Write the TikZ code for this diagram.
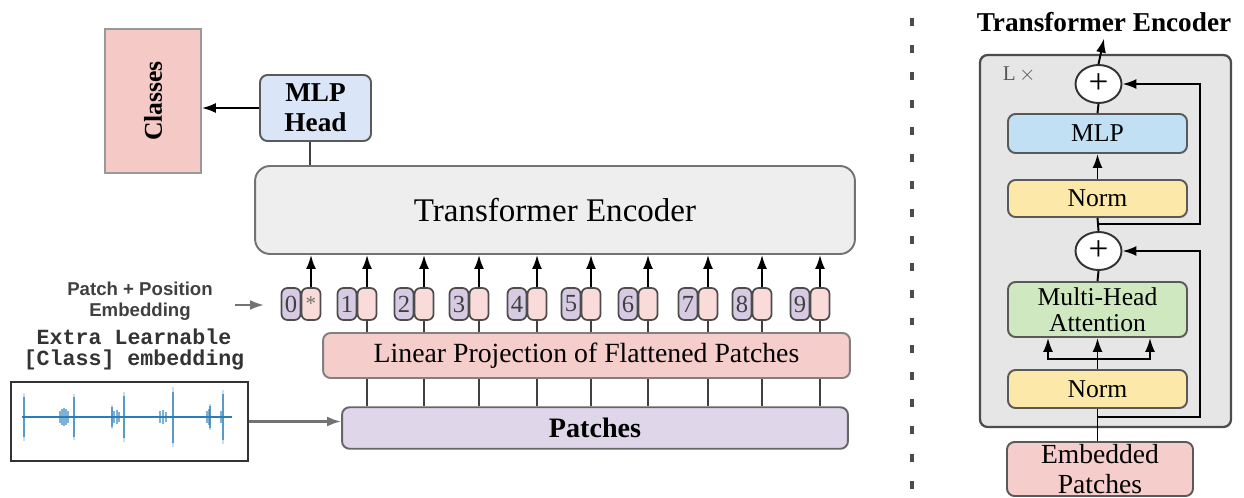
\documentclass[tikz,border=0pt]{standalone}
\usepackage{fontspec}
\setmainfont{Liberation Serif}
\setsansfont{Liberation Sans}
\setmonofont{Liberation Mono}
\usetikzlibrary{arrows.meta,shapes.geometric}

\definecolor{classfill}{HTML}{F5C9C6}
\definecolor{headfill}{HTML}{DAE6F7}
\definecolor{encfill}{HTML}{EEEEEE}
\definecolor{tokpurple}{HTML}{D6CBE3}
\definecolor{tokpink}{HTML}{F9DCD9}
\definecolor{projfill}{HTML}{F5CDCB}
\definecolor{patchfill}{HTML}{DFD6EA}
\definecolor{panelfill}{HTML}{E6E6E6}
\definecolor{mlpfill}{HTML}{C2E0F4}
\definecolor{normfill}{HTML}{FCE9A9}
\definecolor{mhafill}{HTML}{CFE8BF}
\definecolor{wave}{HTML}{2A7DB8}

\tikzset{
  box/.style={draw=black!65,line width=1.1pt,rounded corners=0.15cm,align=center,inner sep=0pt},
  blk/.style={box,minimum width=3.58cm,font=\fontsize{14.6}{15}\selectfont},
  tok/.style={draw=black!70,line width=1pt,rounded corners=0.12cm,minimum width=0.38cm,minimum height=0.64cm,inner sep=0pt,
    font=\fontsize{14}{14}\selectfont\color{black!75}},
  addnode/.style={ellipse,draw=black!80,fill=white,line width=1.1pt,minimum width=0.92cm,minimum height=0.76cm,inner sep=0pt,
    font=\fontsize{20}{20}\selectfont},
  grayarrow/.style={->,draw=black!55,line width=1.3pt},
}

\begin{document}
\begin{tikzpicture}[x=0.02cm,y=-0.02cm,>={Latex[length=0.28cm,width=0.2cm]},line width=1.1pt]
\useasboundingbox (0,0) rectangle (1244,497);

% left: classifier
\node[draw=black!40,fill=classfill,line width=1pt,minimum width=1.92cm,minimum height=2.88cm,inner sep=0pt,
  font=\fontsize{14.6}{15}\selectfont\bfseries] (classes) at (153,101) {\rotatebox{90}{Classes}};
\node[box,fill=headfill,minimum width=2.22cm,minimum height=1.32cm,font=\fontsize{15.5}{17}\selectfont\bfseries]
  (mlphead) at (315.5,108) {MLP\\Head};
\node[box,fill=encfill,draw=black!55,rounded corners=0.3cm,minimum width=12cm,minimum height=1.76cm,
  font=\fontsize{18.8}{20}\selectfont] (enc) at (555,210) {Transformer Encoder};
\draw[->] (mlphead.west) -- (mlphead.west -| classes.east);
\draw[black!75] (mlphead.south -| 310,0) -- (enc.north -| 310,0);

% tokens
\foreach \n/\x in {0/311,1/367,2/424,3/479,4/537,5/591,6/648,7/708,8/762,9/820} {
  \node[tok,fill=tokpink] (tokp\n) at (\x,304) {};
  \node[tok,fill=tokpurple] (tokn\n) at (\x-20,304) {\n};
  \draw[->] (tokp\n.north) -- (tokp\n.north |- enc.south);
}
\node[font=\fontsize{12}{12}\selectfont\color{black!55}] at (tokp0.center) {*};

\node[box,fill=projfill,draw=black!50,minimum width=10.54cm,minimum height=0.9cm,font=\fontsize{15.8}{17}\selectfont]
  (proj) at (586.5,355.5) {Linear Projection of Flattened Patches};
\node[box,fill=patchfill,draw=black!60,minimum width=10.12cm,minimum height=0.83cm,font=\fontsize{16}{17}\selectfont\bfseries]
  (patches) at (595,428) {Patches};
\foreach \n in {1,...,9} {
  \draw[black!75] (proj.north -| tokp\n.south) -- (tokp\n.south);
  \draw[black!75] (proj.south -| tokp\n.south) -- (patches.north -| tokp\n.south);
}

% labels and input signal
\node[align=center,font=\fontsize{10.6}{12}\selectfont\sffamily\bfseries\color{black!75}] (posemb) at (140,301)
  {Patch + Position\\Embedding};
\coordinate (posstart) at (235,305);
\coordinate (posend) at (264,305);
\draw[grayarrow] (posstart) -- (posend);
\node[align=center,font=\fontsize{12.3}{12.2}\selectfont\ttfamily\bfseries\color{black!80}] (clsemb) at (134,349.5)
  {Extra Learnable\\{[Class]} embedding};
\node[draw=black!80,line width=1.3pt,minimum width=4.74cm,minimum height=1.58cm,inner sep=0pt] (signal) at (129.5,421.5) {};
\begin{scope}[wave]
\draw[line width=1.1pt] (22,417) -- (232,417);
\foreach \x/\h in {24/24,74/23,112/12,124/25,173/30,210/13,223/27} {
  \draw[line width=1.6pt,opacity=0.25] (\x,417-\h) -- (\x,417+\h);
  \draw[line width=0.8pt,opacity=0.7] (\x,417-0.85*\h) -- (\x,417+0.85*\h);
}
\foreach \x/\h in {60/6,62/8,64/9,66/8,68/6,114/6,117/7,119/5,160/6,163/7,166/5,207/6,209/8,221/6}
  \draw[line width=1pt,opacity=0.6] (\x,417-\h) -- (\x,417+\h);
\end{scope}
\draw[grayarrow] (signal.east) -- (signal.east -| patches.west);

% divider
\draw[black!70,line width=1.8pt,dash pattern=on 4.5pt off 11pt] (912,18) -- (912,492);

% right: encoder block
\node[font=\fontsize{15.5}{16}\selectfont\bfseries] (title) at (1104,22) {Transformer Encoder};
\node[box,fill=panelfill,draw=black!70,line width=1.3pt,minimum width=5.02cm,minimum height=7.44cm] (panel) at (1105.5,241) {};
\node[font=\fontsize{12}{12}\selectfont\color{black!65},anchor=west] (lx) at (996,74) {L\,$\times$};
\node[addnode] (add1) at (1098.5,84) {+};
\node[blk,fill=mlpfill,minimum height=0.78cm] (mlp) at (1097.5,133.5) {MLP};
\node[blk,fill=normfill,minimum height=0.74cm] (norm1) at (1097.5,198.5) {Norm};
\node[addnode] (add2) at (1098.5,251) {+};
\node[blk,fill=mhafill,minimum height=1.1cm] (mha) at (1097.5,309.5) {Multi-Head\\Attention};
\node[blk,fill=normfill,minimum height=0.76cm] (norm2) at (1097.5,389) {Norm};
\node[box,fill=projfill,minimum width=3.72cm,minimum height=1.08cm,font=\fontsize{15.7}{17}\selectfont]
  (embp) at (1100,469) {Embedded\\Patches};

\draw (embp.north -| norm2.south) -- (norm2.south);
\coordinate (split) at (1098,359);
\draw[->] (norm2.north) -- (mha.south);
\draw[->] (split) -- (1048,359) -- (mha.south -| 1048,0);
\draw[->] (split) -- (1150,359) -- (mha.south -| 1150,0);
\draw (mha.north) -- (add2.south);
\draw (add2.north) -- (norm1.south);
\draw[->] (norm1.north) -- (mlp.south);
\draw (mlp.north) -- (add1.south);
\draw[->] (add1.north) -- (title.south);
\coordinate (res1) at (1098,417);
\coordinate (res2) at (1098,224);
\draw[->] (res1) -- (1200,417) |- (add2.east);
\draw[->] (res2) -- (1200,224) |- (add1.east);
\end{tikzpicture}
\end{document}
